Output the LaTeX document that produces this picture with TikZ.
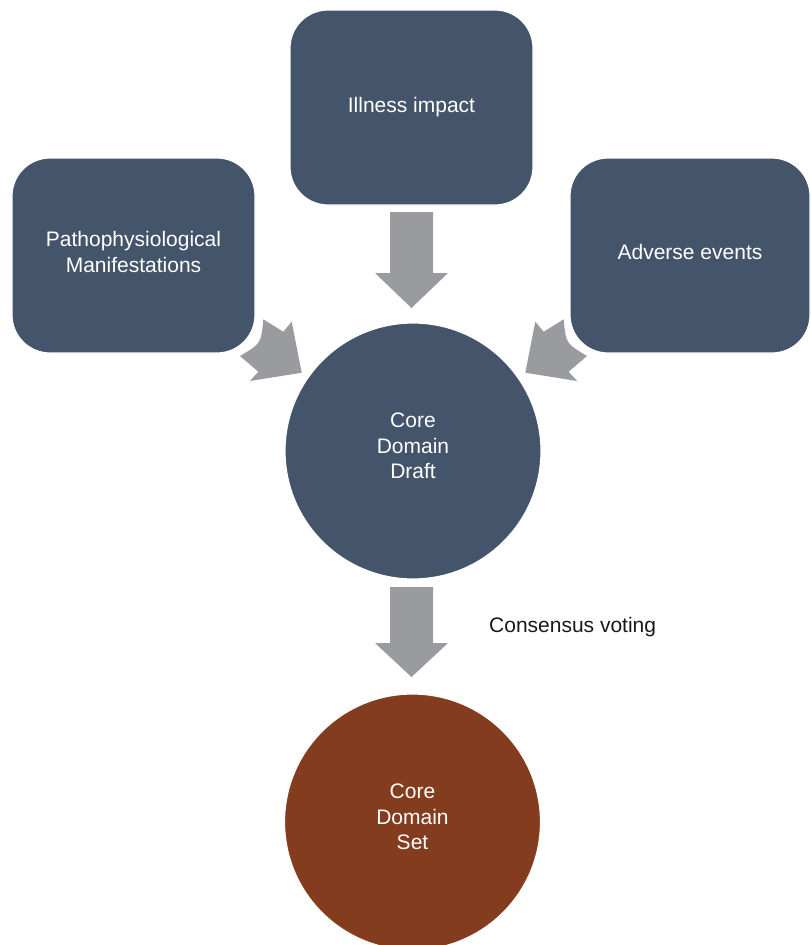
\documentclass[tikz,border=0pt]{standalone}
\usepackage{fontspec}
\setmainfont{Liberation Sans}
\definecolor{slate}{HTML}{44546A}
\definecolor{arrowgray}{HTML}{9A9B9F}
\definecolor{brownc}{HTML}{843C1E}
\tikzset{
  box/.style={rounded corners=38pt, fill=slate, draw=white, line width=1.2pt,
    text=white, align=center, minimum width=243pt, minimum height=195pt, inner sep=0pt,
    font=\fontsize{21}{25.5}\selectfont},
  disc/.style={circle, draw=white, line width=1.2pt, text=white, align=center,
    minimum size=256pt, inner sep=0pt, text depth=10pt,
    font=\fontsize{21}{25.5}\selectfont},
  blockarrow/.style={fill=arrowgray, draw=none}
}
\begin{document}
\begin{tikzpicture}[x=1pt,y=-1pt]
\useasboundingbox (0,0) rectangle (811,945);
\clip (0,0) rectangle (811,945);
% arrows (behind)
\fill[blockarrow] (390,212) -- (433,212) -- (433,273) -- (448,273) -- (411.5,308) -- (375,273) -- (390,273) -- cycle;
\fill[blockarrow] (390,587) -- (433,587) -- (433,643) -- (448,643) -- (411.5,677) -- (375,643) -- (390,643) -- cycle;
\fill[blockarrow] (263.3,319.3) -- (283.3,331.7) -- (291.7,321.7) -- (301.7,372.7) -- (250,381) -- (258.3,371.7) -- (240,356) .. controls (261.1,343.5) .. cycle;
\fill[blockarrow] (563.7,319.3) -- (543.7,331.7) -- (535.3,321.7) -- (525.3,372.7) -- (577,381) -- (568.7,371.7) -- (587,356) .. controls (565.9,343.5) .. cycle;
% nodes
\node[box] (impact) at (411.5,107.5) {Illness impact};
\node[box, text depth=7pt] (patho) at (133.5,255.5) {Pathophysiological\\Manifestations};
\node[box, minimum width=240pt, text depth=7pt] (adverse) at (690,255.5) {Adverse events};
\node[disc, fill=slate] (draft) at (413,451) {Core\\Domain\\Draft};
\node[disc, fill=brownc] (set) at (412.5,822) {Core\\Domain\\Set};
\node[font=\fontsize{21}{25.5}\selectfont, text=black!90, anchor=west, inner sep=0pt] (vote) at (489,627) {Consensus voting};
\end{tikzpicture}
\end{document}
